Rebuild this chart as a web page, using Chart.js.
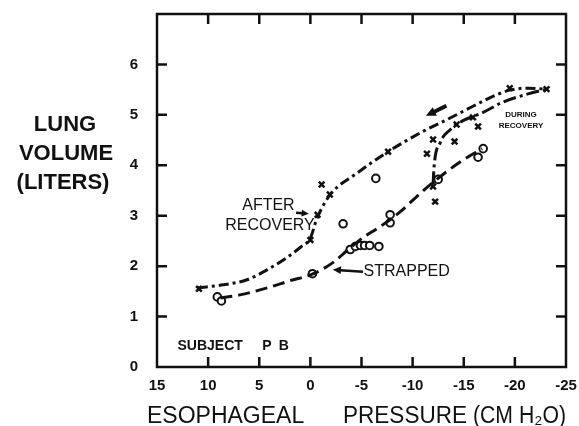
<!DOCTYPE html>
<html>
<head>
<meta charset="utf-8">
<style>
  html, body { margin: 0; background: #fff; }
  #wrap { width: 579px; height: 426px; }
</style>
<script src="https://cdn.jsdelivr.net/npm/chart.js@4.4.1/dist/chart.umd.min.js"></script>
</head>
<body>
<div id="wrap"><canvas id="lung"></canvas></div>
<script>
// --- data (esophageal pressure in cm H2O, volume in liters)
const xTicks = [15, 10, 5, 0, -5, -10, -15, -20, -25];
const yTicks = [0, 1, 2, 3, 4, 5, 6];

// "x" points (after / during recovery)
const crossX = [10.9, 0.0, -0.7, -1.1, -1.9, -7.6, -11.4, -12.0, -14.1, -14.3, -15.9, -16.4, -19.5, -23.1, -12.0, -12.2];
const crossY = [1.55, 2.52, 3.02, 3.62, 3.42, 4.27, 4.23, 4.51, 4.47, 4.81, 4.95, 4.77, 5.53, 5.51, 3.58, 3.28];

// "o" points (strapped)
const circleX = [9.1, 8.7, -0.2, -3.2, -3.9, -4.4, -4.9, -5.3, -5.8, -6.7, -7.8, -7.8, -6.4, -12.5, -16.9, -16.4];
const circleY = [1.39, 1.31, 1.85, 2.84, 2.33, 2.39, 2.41, 2.41, 2.41, 2.39, 3.02, 2.86, 3.74, 3.72, 4.33, 4.16];

// hand-drawn curves
const afterX = [11.0, 8.5, 6.2, 4.2, 2.3, 1.0, 0.0, -0.6, -1.2, -2.1, -4.4, -7.6, -11.0, -13.4, -15.9, -17.9, -19.5, -21.3, -23.1];
const afterY = [1.57, 1.63, 1.73, 1.93, 2.17, 2.37, 2.56, 2.92, 3.18, 3.46, 3.82, 4.27, 4.67, 4.91, 5.17, 5.37, 5.49, 5.53, 5.51];

const duringX = [-12.0, -12.1, -12.7, -13.7, -14.8, -16.9, -18.8, -21.2, -23.1];
const duringY = [3.62, 3.98, 4.45, 4.71, 4.87, 5.05, 5.25, 5.41, 5.51];

const strappedX = [8.8, 6.9, 4.2, 2.0, -0.3, -2.2, -3.6, -5.1, -6.8, -8.8, -10.4, -12.0, -14.6, -16.8];
const strappedY = [1.37, 1.43, 1.57, 1.71, 1.85, 2.07, 2.31, 2.56, 2.78, 3.08, 3.38, 3.66, 4.06, 4.33];

const INK = '#111';
const FONT = '"Liberation Sans", Arial, sans-serif';
const zip = (xs, ys) => xs.map((x, i) => ({ x, y: ys[i] }));

function curve(xs, ys, dash) {
  return {
    type: 'line', data: zip(xs, ys), showLine: true, pointRadius: 0,
    borderColor: INK, borderWidth: 3, borderDash: dash,
    cubicInterpolationMode: 'monotone', fill: false,
  };
}

// frame, inward ticks, labels and arrows
const decorations = {
  id: 'decorations',
  afterDraw(chart) {
    const { ctx, chartArea: a, scales: { x, y } } = chart;
    const px = v => x.getPixelForValue(v);
    const py = v => y.getPixelForValue(v);
    ctx.save();
    ctx.strokeStyle = INK;
    ctx.fillStyle = INK;
    ctx.lineWidth = 2.5;
    ctx.strokeRect(a.left, a.top, a.right - a.left, a.bottom - a.top);

    const tl = 10;
    ctx.beginPath();
    xTicks.slice(1, -1).forEach(v => {
      ctx.moveTo(px(v), a.bottom); ctx.lineTo(px(v), a.bottom - tl);
      ctx.moveTo(px(v), a.top); ctx.lineTo(px(v), a.top + tl);
    });
    yTicks.slice(1).forEach(v => {
      ctx.moveTo(a.left, py(v)); ctx.lineTo(a.left + tl, py(v));
      ctx.moveTo(a.right, py(v)); ctx.lineTo(a.right - tl, py(v));
    });
    ctx.stroke();

    function arrow(x1, y1, x2, y2, w, head) {
      const X1 = px(x1), Y1 = py(y1), X2 = px(x2), Y2 = py(y2);
      const ang = Math.atan2(Y2 - Y1, X2 - X1);
      ctx.lineWidth = w;
      ctx.beginPath();
      ctx.moveTo(X1, Y1);
      ctx.lineTo(X2 - Math.cos(ang) * head * 0.8, Y2 - Math.sin(ang) * head * 0.8);
      ctx.stroke();
      ctx.beginPath();
      ctx.moveTo(X2, Y2);
      ctx.lineTo(X2 - head * Math.cos(ang - 0.45), Y2 - head * Math.sin(ang - 0.45));
      ctx.lineTo(X2 - head * Math.cos(ang + 0.45), Y2 - head * Math.sin(ang + 0.45));
      ctx.closePath();
      ctx.fill();
    }
    arrow(1.4, 3.06, 0.15, 3.04, 2.5, 8);
    arrow(-5.15, 1.89, -2.2, 1.93, 2.5, 9);
    arrow(-13.3, 5.18, -11.3, 4.98, 4, 11);

    ctx.textBaseline = 'middle';
    ctx.textAlign = 'center';
    ctx.font = '16px ' + FONT;
    ctx.fillText('AFTER', px(4.1), py(3.2));
    ctx.fillText('RECOVERY', px(3.95), py(2.8));
    ctx.textAlign = 'left';
    ctx.fillText('STRAPPED', px(-5.2), py(1.89));

    ctx.textAlign = 'center';
    ctx.font = 'bold 8px ' + FONT;
    ctx.fillText('DURING', px(-20.6), py(5.01));
    ctx.fillText('RECOVERY', px(-20.6), py(4.79));

    ctx.textAlign = 'left';
    ctx.font = 'bold 14px ' + FONT;
    ctx.fillText('SUBJECT', px(13.0), py(0.42));
    ctx.fillText('P', px(4.7), py(0.42));
    ctx.fillText('B', px(3.1), py(0.42));

    // axis titles
    ctx.textAlign = 'center';
    ctx.font = 'bold 22px ' + FONT;
    ctx.fillText('LUNG', 65, 125);
    ctx.fillText('VOLUME', 66, 154);
    ctx.fillText('(LITERS)', 63, 183);

    ctx.font = '23px ' + FONT;
    ctx.textAlign = 'left';
    ctx.fillText('ESOPHAGEAL', 147, 417, 158);
    ctx.fillText('PRESSURE', 343, 417, 124);
    ctx.fillText('(CM H\u2082O)', 473, 417, 93);
    ctx.restore();
  }
};

new Chart(document.getElementById('lung'), {
  type: 'scatter',
  data: {
    datasets: [
      curve(afterX, afterY, [10, 4, 3, 4]),
      curve(duringX, duringY, [13, 4, 3, 4]),
      curve(strappedX, strappedY, [12, 6]),
      {
        data: zip(crossX, crossY), pointStyle: 'crossRot', pointRadius: 4,
        borderColor: INK, borderWidth: 2.5, showLine: false,
      },
      {
        data: zip(circleX, circleY), pointStyle: 'circle', pointRadius: 3.8,
        borderColor: INK, backgroundColor: '#fff', borderWidth: 2, showLine: false,
      },
    ],
  },
  options: {
    responsive: true,
    maintainAspectRatio: false,
    animation: false,
    layout: { padding: { top: 14, right: 13, left: 0, bottom: 0 } },
    plugins: { legend: { display: false }, tooltip: { enabled: false } },
    scales: {
      x: {
        type: 'linear', reverse: true, min: -25, max: 15,
        afterBuildTicks: s => { s.ticks = xTicks.map(v => ({ value: v })); },
        afterFit: s => { s.height = 59; s.paddingLeft = 0; s.paddingRight = 0; },
        grid: { display: false, drawTicks: false },
        border: { display: false },
        ticks: { color: INK, padding: 10, font: { family: FONT, size: 15, weight: 'bold' } },
      },
      y: {
        type: 'linear', min: 0, max: 7,
        afterBuildTicks: s => { s.ticks = yTicks.map(v => ({ value: v })); },
        afterFit: s => { s.width = 157; s.paddingTop = 0; s.paddingBottom = 0; },
        grid: { display: false, drawTicks: false },
        border: { display: false },
        ticks: { color: INK, padding: 19, font: { family: FONT, size: 15, weight: 'bold' } },
      },
    },
  },
  plugins: [decorations],
});
</script>
</body>
</html>
